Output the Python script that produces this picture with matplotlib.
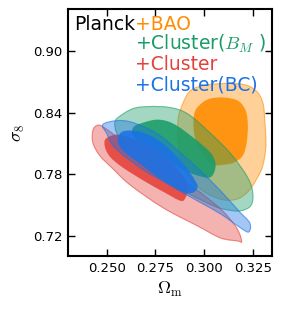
import matplotlib
matplotlib.use("Agg")
import matplotlib.pyplot as plt
import numpy as np
from matplotlib.path import Path
from matplotlib.patches import PathPatch

plt.rcParams["mathtext.fontset"] = "cm"

# contour outlines, (Omega_m, sigma_8)
bao_outer_om = [0.2930, 0.2893, 0.2867, 0.2867, 0.2893, 0.2945, 0.3018, 0.3100, 0.3173, 0.3230,
                0.3271, 0.3302, 0.3318, 0.3313, 0.3302, 0.3266, 0.3204, 0.3100, 0.2997]
bao_outer_s8 = [0.8615, 0.8498, 0.8341, 0.8106, 0.7881, 0.7715, 0.7607, 0.7548, 0.7558, 0.7636,
                0.7754, 0.7881, 0.8077, 0.8302, 0.8498, 0.8615, 0.8674, 0.8684, 0.8664]
bao_inner_om = [0.2992, 0.3033, 0.3100, 0.3173, 0.3214, 0.3225, 0.3219, 0.3199, 0.3152, 0.3100,
                0.3049, 0.2997, 0.2955, 0.2945, 0.2955]
bao_inner_s8 = [0.8498, 0.8537, 0.8547, 0.8517, 0.8420, 0.8273, 0.8106, 0.7979, 0.7911, 0.7891,
                0.7891, 0.7979, 0.8145, 0.8302, 0.8420]

bm_outer_om = [0.2557, 0.2635, 0.2723, 0.2826, 0.2914, 0.3018, 0.3137, 0.3225, 0.3251, 0.3240,
               0.3188, 0.3121, 0.3049, 0.2893, 0.2723, 0.2604, 0.2552, 0.2541]
bm_outer_s8 = [0.8351, 0.8439, 0.8459, 0.8449, 0.8390, 0.8224, 0.7999, 0.7764, 0.7607, 0.7490,
               0.7441, 0.7450, 0.7490, 0.7636, 0.7832, 0.8028, 0.8194, 0.8292]
bm_inner_om = [0.2635, 0.2671, 0.2759, 0.2842, 0.2945, 0.3033, 0.3059, 0.3049, 0.3023, 0.2971,
               0.2904, 0.2800, 0.2697, 0.2635]
bm_inner_s8 = [0.8253, 0.8292, 0.8331, 0.8292, 0.8155, 0.8009, 0.7901, 0.7803, 0.7764, 0.7783,
               0.7832, 0.7950, 0.8077, 0.8175]

cl_outer_om = [0.2428, 0.2448, 0.2479, 0.2578, 0.2671, 0.2811, 0.2955, 0.3085, 0.3157, 0.3183,
               0.3193, 0.3173, 0.3085, 0.2966, 0.2790, 0.2619, 0.2531, 0.2464, 0.2428]
cl_outer_s8 = [0.8224, 0.8273, 0.8263, 0.8126, 0.7999, 0.7832, 0.7656, 0.7460, 0.7303, 0.7215,
               0.7137, 0.7147, 0.7176, 0.7294, 0.7470, 0.7695, 0.7852, 0.7979, 0.8106]
cl_inner_om = [0.2495, 0.2557, 0.2645, 0.2723, 0.2800, 0.2878, 0.2919, 0.2898, 0.2867, 0.2800,
               0.2707, 0.2583, 0.2516, 0.2490]
cl_inner_s8 = [0.8145, 0.8185, 0.8136, 0.8077, 0.7969, 0.7813, 0.7676, 0.7548, 0.7548, 0.7617,
               0.7715, 0.7862, 0.7969, 0.8067]

bc_outer_om = [0.2479, 0.2552, 0.2635, 0.2759, 0.2878, 0.2981, 0.3085, 0.3178, 0.3235, 0.3230,
               0.3188, 0.3085, 0.2966, 0.2811, 0.2671, 0.2541, 0.2500]
bc_outer_s8 = [0.8283, 0.8321, 0.8302, 0.8194, 0.8009, 0.7832, 0.7636, 0.7441, 0.7323, 0.7235,
               0.7274, 0.7411, 0.7538, 0.7705, 0.7862, 0.8057, 0.8194]
bc_inner_om = [0.2567, 0.2604, 0.2686, 0.2790, 0.2893, 0.2955, 0.2966, 0.2940, 0.2888, 0.2774,
               0.2671, 0.2593, 0.2557]
bc_inner_s8 = [0.8194, 0.8224, 0.8204, 0.8096, 0.7901, 0.7734, 0.7666, 0.7617, 0.7627, 0.7754,
               0.7901, 0.8009, 0.8106]

labels = ["+BAO", "+Cluster($B_M$ )", "+Cluster", "+Cluster(BC)"]
colors = ["#ff8c00", "#1a9c68", "#e4413a", "#1a72e6"]

x_ticks = [0.250, 0.275, 0.300, 0.325]
y_ticks = [0.72, 0.78, 0.84, 0.90]


def smooth_path(xs, ys):
    # closed Catmull-Rom outline through the read points, as cubic Beziers
    pts = np.column_stack([xs, ys])
    prev = np.roll(pts, 1, axis=0)
    nxt = np.roll(pts, -1, axis=0)
    nxt2 = np.roll(pts, -2, axis=0)
    verts = [pts[0]]
    codes = [Path.MOVETO]
    for p0, p1, p2, p3 in zip(prev, pts, nxt, nxt2):
        verts += [p1 + (p2 - p0) / 6, p2 - (p3 - p1) / 6, p2]
        codes += [Path.CURVE4] * 3
    verts.append(pts[0])
    codes.append(Path.CLOSEPOLY)
    return Path(verts, codes)


def draw_contours(ax, outer, inner, color):
    ax.add_patch(PathPatch(smooth_path(*outer), facecolor=color, alpha=0.4,
                           edgecolor="none"))
    ax.add_patch(PathPatch(smooth_path(*outer), facecolor="none", edgecolor=color,
                           alpha=0.6, linewidth=0.8))
    ax.add_patch(PathPatch(smooth_path(*inner), facecolor=color, alpha=0.88,
                           edgecolor="none"))


fig = plt.figure(figsize=(2.82, 3.13), dpi=100)
ax = fig.add_axes([0.241, 0.182, 0.724, 0.789])

sets = [
    ((bao_outer_om, bao_outer_s8), (bao_inner_om, bao_inner_s8)),
    ((bm_outer_om, bm_outer_s8), (bm_inner_om, bm_inner_s8)),
    ((cl_outer_om, cl_outer_s8), (cl_inner_om, cl_inner_s8)),
    ((bc_outer_om, bc_outer_s8), (bc_inner_om, bc_inner_s8)),
]
for (outer, inner), color in zip(sets, colors):
    draw_contours(ax, outer, inner, color)

ax.set_xlim(0.23, 0.335)
ax.set_ylim(0.70, 0.941)
ax.set_xticks(x_ticks)
ax.set_xticklabels([f"{v:.3f}" for v in x_ticks])
ax.set_yticks(y_ticks)
ax.set_yticklabels([f"{v:.2f}" for v in y_ticks])
ax.tick_params(direction="in", top=True, right=True, length=5, width=1,
               labelsize=9.5, pad=4)
for spine in ax.spines.values():
    spine.set_linewidth(1.5)
ax.set_xlabel(r"$\Omega_{\rm m}$", fontsize=13, labelpad=4)
ax.set_ylabel(r"$\sigma_8$", fontsize=13, labelpad=4)

fig.text(74 / 282, 1 - 30 / 313, "Planck", fontsize=13.5, color="black",
         ha="left", va="baseline")
for i, (label, color) in enumerate(zip(labels, colors)):
    fig.text(135 / 282, 1 - (30 + 20.2 * i) / 313, label, fontsize=13.5,
             color=color, ha="left", va="baseline")

fig.savefig("out.png", dpi=100)
